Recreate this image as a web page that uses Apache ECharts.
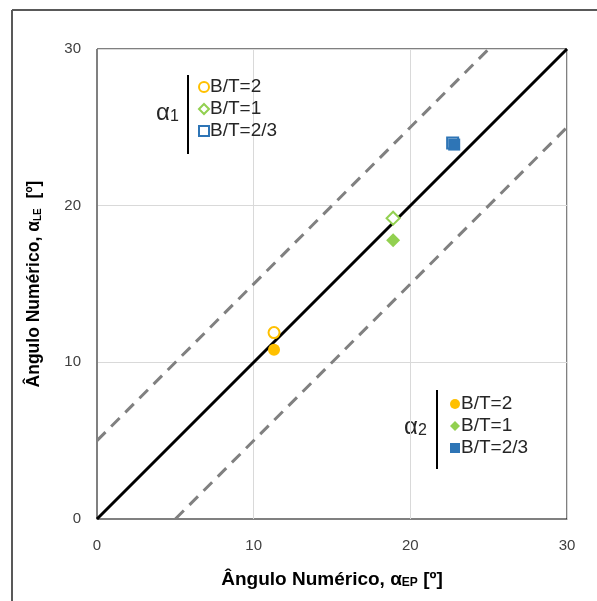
<!DOCTYPE html>
<html>
<head>
<meta charset="utf-8">
<script src="https://cdn.jsdelivr.net/npm/echarts@6/dist/echarts.min.js"></script>
<style>
  html, body { margin: 0; padding: 0; background: #fff; }
  #chart { width: 597px; height: 601px; }
</style>
</head>
<body>
<div id="chart"></div>
<script>
// dados do gráfico
const axisTicks = [0, 10, 20, 30];
const alfa1BT2 = [[11.3, 11.9]];
const alfa1BT1 = [[18.9, 19.2]];
const alfa1BT23 = [[22.7, 24.0]];
const alfa2BT2 = [[11.3, 10.8]];
const alfa2BT1 = [[18.9, 17.8]];
const alfa2BT23 = [[22.8, 23.9]];
const lineaIgual = [[0, 0], [30, 30]];
const lineaMais5 = [[0, 5], [25, 30]];
const lineaMenos5 = [[5, 0], [30, 25]];

const LARANJA = '#FFC000';
const VERDE = '#92D050';
const AZUL = '#2E75B6';
const FONTE = '"Liberation Sans", Arial, sans-serif';

const chart = echarts.init(document.getElementById('chart'), null, { renderer: 'canvas' });

// serie de pontos (oca ou cheia)
function pontos(nome, dados, simbolo, tamanho, cor, oca) {
  return {
    name: nome,
    type: 'scatter',
    data: dados,
    symbol: simbolo,
    symbolSize: tamanho,
    z: 5,
    itemStyle: oca
      ? { color: '#fff', borderColor: cor, borderWidth: 2, opacity: 1 }
      : { color: cor, borderWidth: 0, opacity: 1 }
  };
}

function linha(dados, tracejada) {
  return {
    type: 'line',
    data: dados,
    symbol: 'none',
    silent: true,
    z: 3,
    lineStyle: tracejada
      ? { color: '#808080', width: 3, type: [12, 8] }
      : { color: '#000', width: 3 }
  };
}

const axisComum = {
  type: 'value',
  min: axisTicks[0],
  max: axisTicks[axisTicks.length - 1],
  interval: axisTicks[1] - axisTicks[0],
  nameLocation: 'middle',
  axisTick: { show: false },
  axisLine: { show: true, lineStyle: { color: '#808080', width: 1 } },
  splitLine: { show: true, lineStyle: { color: '#d9d9d9', width: 1 } },
  axisLabel: { color: '#404040', fontSize: 15, fontFamily: FONTE }
};

const legendaComum = {
  orient: 'vertical',
  itemWidth: 10,
  itemHeight: 10,
  itemGap: 2,
  padding: 0,
  selectedMode: false,
  formatter: name => name.split(' ')[1],
  textStyle: { fontSize: 19, lineHeight: 20, color: '#262626', fontFamily: FONTE, padding: [0, 0, 0, -4] }
};

function nomeEixo(tam, sub) {
  return {
    rich: {
      a: { fontSize: tam, fontWeight: 'bold', color: '#000', fontFamily: FONTE, lineHeight: tam + 6, verticalAlign: 'bottom' },
      s: { fontSize: sub, fontWeight: 'bold', color: '#000', fontFamily: FONTE, lineHeight: tam, verticalAlign: 'bottom' }
    }
  };
}

const option = {
  backgroundColor: '#fff',
  animation: false,
  grid: {
    left: 97, top: 49, width: 470, height: 470,
    show: true, borderColor: '#000', borderWidth: 1, backgroundColor: 'transparent'
  },
  xAxis: Object.assign({}, axisComum, {
    nameGap: 45,
    axisLabel: Object.assign({}, axisComum.axisLabel, { margin: 19 }),
    name: '{a|Ângulo Numérico, α}{s|EP}{a| [º]}',
    nameTextStyle: nomeEixo(19, 12)
  }),
  yAxis: Object.assign({}, axisComum, {
    nameGap: 54,
    axisLabel: Object.assign({}, axisComum.axisLabel, { margin: 16 }),
    name: '{a|Ângulo Numérico, α}{s|LE}{a|  [º]}',
    nameTextStyle: nomeEixo(17.5, 10)
  }),
  legend: [
    Object.assign({}, legendaComum, {
      left: 198, top: 77,
      data: ['α1 B/T=2', 'α1 B/T=1', 'α1 B/T=2/3']
    }),
    Object.assign({}, legendaComum, {
      left: 450, top: 394,
      data: ['α2 B/T=2', 'α2 B/T=1', 'α2 B/T=2/3']
    })
  ],
  graphic: [
    // moldura externa
    { type: 'line', shape: { x1: 12, y1: 10, x2: 12, y2: 601 }, style: { stroke: '#595959', lineWidth: 2 } },
    { type: 'line', shape: { x1: 12, y1: 10, x2: 597, y2: 10 }, style: { stroke: '#595959', lineWidth: 2 } },
    // blocos de legenda
    { type: 'rect', shape: { x: 187, y: 75, width: 2, height: 79 }, style: { fill: '#000' } },
    {
      type: 'text', left: 156, top: 101,
      style: {
        text: '{a|α}{s|1}',
        rich: {
          a: { fontSize: 24, fill: '#262626', fontFamily: FONTE, lineHeight: 28, verticalAlign: 'bottom' },
          s: { fontSize: 16, fill: '#262626', fontFamily: FONTE, lineHeight: 19, verticalAlign: 'bottom' }
        }
      }
    },
    { type: 'rect', shape: { x: 436, y: 390, width: 2, height: 79 }, style: { fill: '#000' } },
    {
      type: 'text', left: 404, top: 415,
      style: {
        text: '{a|α}{s|2}',
        rich: {
          a: { fontSize: 24, fill: '#262626', fontFamily: FONTE, lineHeight: 28, verticalAlign: 'bottom' },
          s: { fontSize: 16, fill: '#262626', fontFamily: FONTE, lineHeight: 19, verticalAlign: 'bottom' }
        }
      }
    }
  ],
  series: [
    linha(lineaMais5, true),
    linha(lineaMenos5, true),
    linha(lineaIgual, false),
    pontos('α1 B/T=2', alfa1BT2, 'circle', 11, LARANJA, true),
    pontos('α1 B/T=1', alfa1BT1, 'diamond', 13, VERDE, true),
    pontos('α1 B/T=2/3', alfa1BT23, 'rect', 11, AZUL, true),
    pontos('α2 B/T=2', alfa2BT2, 'circle', 12, LARANJA, false),
    pontos('α2 B/T=1', alfa2BT1, 'diamond', 14, VERDE, false),
    pontos('α2 B/T=2/3', alfa2BT23, 'rect', 12, AZUL, false)
  ]
};

chart.setOption(option);
</script>
</body>
</html>
